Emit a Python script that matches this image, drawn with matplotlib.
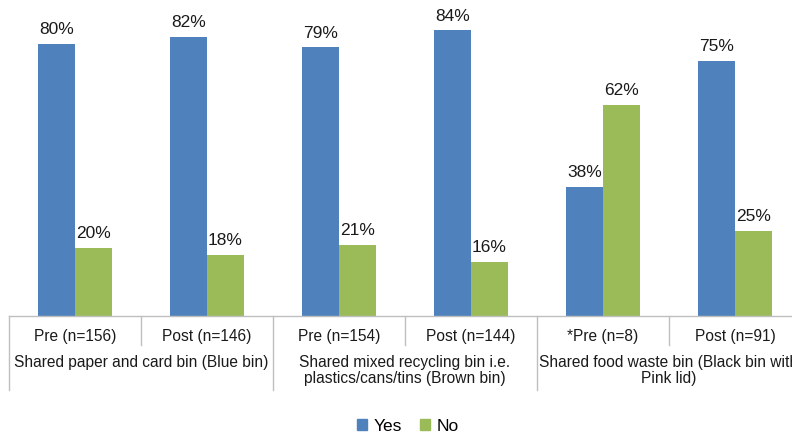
import matplotlib
matplotlib.use('Agg')
import matplotlib.pyplot as plt
from matplotlib.patches import Patch

plt.rcParams['font.family'] = ['Liberation Sans', 'DejaVu Sans']

BLUE = '#4F81BD'
GREEN = '#9BBB59'
GRID = '#BFBFBF'

periods = ['Pre (n=156)', 'Post (n=146)', 'Pre (n=154)', 'Post (n=144)',
           '*Pre (n=8)', 'Post (n=91)']
groups = ['Shared paper and card bin (Blue bin)',
          'Shared mixed recycling bin i.e.\nplastics/cans/tins (Brown bin)',
          'Shared food waste bin (Black bin with\nPink lid)']
yes_vals = [80, 82, 79, 84, 38, 75]
no_vals = [20, 18, 21, 16, 62, 25]

W, H = 792, 436
fig = plt.figure(figsize=(W / 100, H / 100), dpi=100)
fig.patch.set_facecolor('white')

# axes: baseline at y=316 px, 100% = 340 px; right edge runs past the figure
left, right, base = 9, 801, 316
ax = fig.add_axes([left / W, (H - base) / H, (right - left) / W, base / H])
ax.set_xlim(-0.5, len(periods) - 0.5)
ax.set_ylim(0, base / 340 * 100)
ax.axis('off')

bw = 0.28
x = list(range(len(periods)))
ax.bar([i - bw / 2 for i in x], yes_vals, bw, color=BLUE, zorder=2)
ax.bar([i + bw / 2 for i in x], no_vals, bw, color=GREEN, zorder=2)

for i in x:
    ax.text(i - bw / 2, yes_vals[i] + 2.0, f'{yes_vals[i]}%', ha='center', va='bottom',
            fontsize=12.5, color='#1a1a1a')
    ax.text(i + bw / 2, no_vals[i] + 2.0, f'{no_vals[i]}%', ha='center', va='bottom',
            fontsize=12.5, color='#1a1a1a')

tr = ax.get_xaxis_transform()
px = 1 / base  # one pixel in axes fraction

# baseline
ax.plot([-0.5, len(periods) - 0.5], [0, 0], color=GRID, lw=1, transform=tr, clip_on=False)

# separators
for b in [-0.5, 1.5, 3.5, 5.5]:
    ax.plot([b, b], [0, -74 * px], color=GRID, lw=1, transform=tr, clip_on=False)
for b in [0.5, 2.5, 4.5]:
    ax.plot([b, b], [0, -29 * px], color=GRID, lw=1, transform=tr, clip_on=False)

for i, p in enumerate(periods):
    ax.text(i, -20 * px, p, ha='center', va='center', fontsize=11.2,
            color='#1a1a1a', transform=tr)

for g, name in enumerate(groups):
    ax.text(2 * g + 0.5, -39 * px, name, ha='center', va='top', fontsize=11.2,
            color='#1a1a1a', transform=tr, linespacing=1.1)

handles = [Patch(color=BLUE, label='Yes'), Patch(color=GREEN, label='No')]
fig.legend(handles=handles, loc='center', bbox_to_anchor=(0.515, 10 / H), ncol=2,
           frameon=False, fontsize=12.5, handlelength=0.6, handleheight=0.6,
           handletextpad=0.4, columnspacing=1.0)

fig.savefig('out.png', dpi=100, facecolor='white')
